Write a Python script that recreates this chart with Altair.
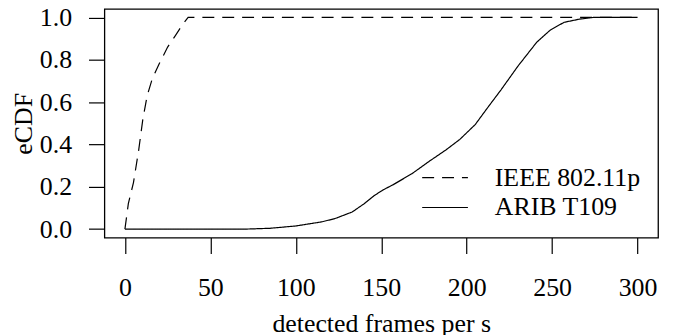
import altair as alt
import pandas as pd

# ---- data ----
series_order = ["IEEE 802.11p", "ARIB T109"]

ieee_x = [0, 2, 5, 8, 10.5, 13, 16, 20, 25, 30, 34, 37, 300]
ieee_y = [0, 0.12, 0.22, 0.37, 0.52, 0.63, 0.71, 0.78, 0.86, 0.92, 0.97, 1.0, 1.0]

arib_x = [0, 70, 85, 100, 115, 123, 133, 140, 146, 151, 157, 168, 178, 188,
          196, 205, 212, 220, 230, 241, 249, 257, 266, 274, 300]
arib_y = [0, 0, 0.004, 0.015, 0.034, 0.05, 0.081, 0.12, 0.159, 0.185, 0.21,
          0.262, 0.32, 0.375, 0.424, 0.494, 0.571, 0.657, 0.77, 0.883, 0.941,
          0.977, 0.992, 1.0, 1.0]

x_ticks = [0, 50, 100, 150, 200, 250, 300]
y_ticks = [0.0, 0.2, 0.4, 0.6, 0.8, 1.0]

df = pd.concat([
    pd.DataFrame({"x": ieee_x, "y": ieee_y, "series": series_order[0]}),
    pd.DataFrame({"x": arib_x, "y": arib_y, "series": series_order[1]}),
], ignore_index=True)

FONT = "Liberation Serif"
FS = 26

chart = alt.Chart(df).mark_line(color="black", strokeWidth=1.2).encode(
    x=alt.X("x:Q",
            scale=alt.Scale(domain=[-12, 312], nice=False, zero=False),
            axis=alt.Axis(values=x_ticks, title="detected frames per s",
                          labelPadding=21, titlePadding=10, format="d")),
    y=alt.Y("y:Q",
            scale=alt.Scale(domain=[-0.04, 1.04], nice=False, zero=False),
            axis=alt.Axis(values=y_ticks, title="eCDF", format=".1f",
                          labelPadding=17, titlePadding=3)),
    strokeDash=alt.StrokeDash(
        "series:N",
        scale=alt.Scale(domain=series_order, range=[[12, 8], [1, 0]]),
        legend=alt.Legend(title=None, orient="none", legendX=329.7, legendY=156.7,
                          symbolType="M-2.3,0H2.3", symbolSize=400,
                          symbolStrokeWidth=1.2, symbolStrokeColor="black",
                          symbolFillColor="transparent",
                          labelFont=FONT, labelFontSize=FS, labelColor="black",
                          labelOffset=37, rowPadding=4, padding=0),
    ),
    detail="series:N",
).properties(
    width=557, height=230,
    autosize=alt.AutoSizeParams(type="none"),
    padding={"left": 97, "top": 0, "right": 10, "bottom": 97},
).configure_view(
    stroke="black", strokeWidth=1.3
).configure_axis(
    domain=False, grid=False,
    tickColor="black", tickSize=16, tickWidth=1.2,
    labelFont=FONT, labelFontSize=FS, labelColor="black",
    labelFlush=False, labelOverlap=False,
    titleFont=FONT, titleFontSize=FS, titleColor="black", titleFontWeight="normal",
)

chart.save("out.html", embed_options={"renderer": "svg", "actions": False})
